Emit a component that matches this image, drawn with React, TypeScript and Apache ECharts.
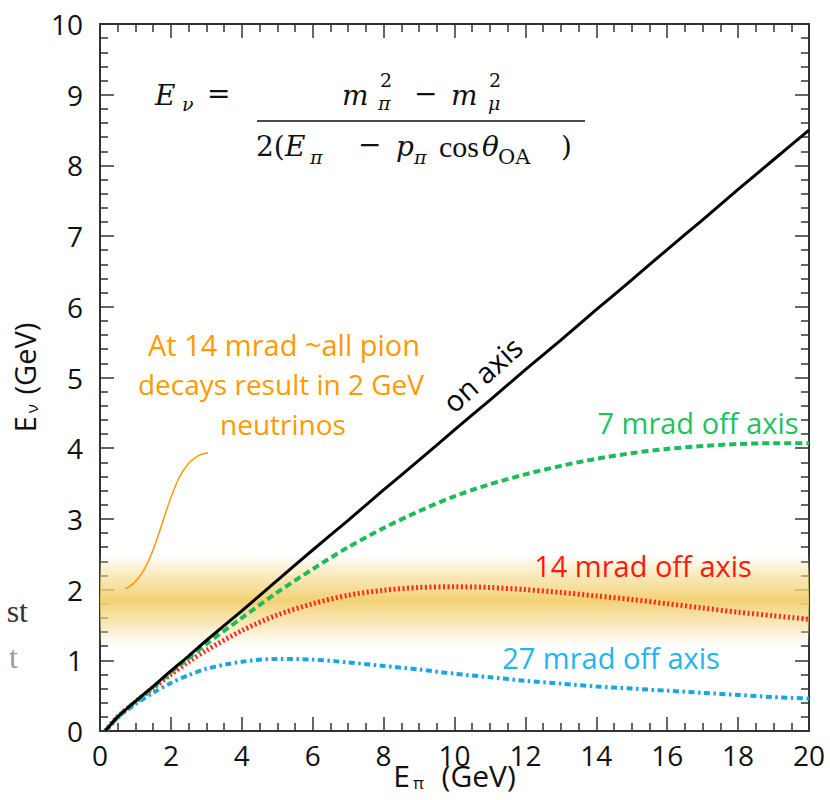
import React, { useEffect, useRef } from 'react';
import * as echarts from 'echarts';

// Pion energy (GeV) sample points
const E_PI = [0.15, 0.5, 1, 1.5, 2, 2.5, 3, 4, 5, 6, 7, 8, 9, 10, 11, 12, 13, 14, 15, 16, 17, 18, 19, 20];
// Neutrino energy (GeV)
const ON_AXIS = [0, 0.2, 0.42, 0.63, 0.85, 1.06, 1.28, 1.7, 2.13, 2.56, 2.98, 3.41, 3.83, 4.26, 4.68, 5.11, 5.53, 5.96, 6.38, 6.81, 7.23, 7.66, 8.08, 8.5];
const OFF_7 = [0, 0.2, 0.42, 0.62, 0.83, 1.03, 1.23, 1.6, 1.96, 2.29, 2.6, 2.87, 3.11, 3.32, 3.49, 3.63, 3.75, 3.85, 3.93, 3.99, 4.03, 4.06, 4.07, 4.07];
const OFF_14 = [0, 0.2, 0.41, 0.61, 0.8, 0.98, 1.14, 1.42, 1.64, 1.8, 1.92, 1.99, 2.03, 2.04, 2.03, 2.0, 1.96, 1.91, 1.86, 1.8, 1.74, 1.68, 1.63, 1.58];
const OFF_27 = [0, 0.19, 0.38, 0.54, 0.68, 0.79, 0.88, 0.98, 1.02, 1.01, 0.97, 0.92, 0.87, 0.81, 0.76, 0.71, 0.67, 0.63, 0.6, 0.57, 0.54, 0.51, 0.48, 0.46];
// Highlighted 2 GeV band (GeV)
const BAND = [1.2, 2.5];
const X_RANGE = [0, 20];
const Y_RANGE = [0, 10];

const SANS = '"Open Sans", "Noto Sans", sans-serif';
const SERIF = '"DejaVu Serif", "Liberation Serif", serif';
const TIMES = '"Liberation Serif", "DejaVu Serif", serif';

const pairs = (ys: number[]) => E_PI.map((x, i) => [x, ys[i]]);

function txt(text: string, x: number, y: number, font: string, fill: string, align = 'left', vAlign = 'middle', extra: any = {}) {
  return {
    type: 'text',
    x,
    y,
    z: 100,
    ...extra,
    style: { text, font, fill, align, verticalAlign: vAlign, textAlign: align, textVerticalAlign: vAlign },
  };
}

export default function App() {
  const ref = useRef<HTMLDivElement>(null);
  useEffect(() => {
    if (!ref.current) return;
    const chart = echarts.init(ref.current, undefined, { renderer: 'svg' });
    const axisCommon = {
      type: 'value',
      axisLine: { show: true, onZero: false, lineStyle: { color: '#333', width: 2 } },
      axisTick: { show: true, inside: true, length: 14, lineStyle: { color: '#333', width: 1.5 } },
      splitLine: { show: false },
    };
    const xBase = { ...axisCommon, min: X_RANGE[0], max: X_RANGE[1], interval: 2, minorTick: { show: true, splitNumber: 4, length: 8, lineStyle: { color: '#333', width: 1.5 } } };
    const yBase = { ...axisCommon, min: Y_RANGE[0], max: Y_RANGE[1], interval: 1, minorTick: { show: true, splitNumber: 5, length: 8, lineStyle: { color: '#333', width: 1.5 } } };
    const main = 'italic 28px ' + SERIF;
    const up = '28px ' + SERIF;
    const sub = 'italic 19px ' + SERIF;
    const subUp = '19px ' + SERIF;
    const orange = '#ff9a00';
    const ink = '#111';
    const option: any = {
      animation: false,
      backgroundColor: '#fff',
      grid: { left: 100, top: 24, right: 21, bottom: 69, containLabel: false, outerBoundsMode: 'none' },
      xAxis: [
        {
          ...xBase,
          position: 'bottom',
          axisLabel: { show: true, fontSize: 28, color: ink, fontFamily: SANS, margin: 10 },
          name: '{e|E}{s|π}{e|  (GeV)}',
          nameLocation: 'middle',
          nameGap: 44,
          nameMoveOverlap: false,
          nameTextStyle: {
            color: ink,
            verticalAlign: 'middle',
            rich: {
              e: { fontSize: 30, fontFamily: SANS, color: ink },
              s: { fontSize: 17, fontFamily: SANS, color: ink, padding: [14, 2, 0, 3] },
            },
          },
        },
        { ...xBase, position: 'top', axisLabel: { show: false } },
      ],
      yAxis: [
        {
          ...yBase,
          position: 'left',
          axisLabel: { show: true, fontSize: 28, color: ink, fontFamily: SANS, margin: 17 },
          name: '{e|E}{s|ν}{e| (GeV)}',
          nameLocation: 'middle',
          nameRotate: 90,
          nameGap: 58,
          nameTextStyle: {
            color: ink,
            rich: {
              e: { fontSize: 29, fontFamily: SANS, color: ink },
              s: { fontSize: 17, fontFamily: SANS, color: ink, padding: [14, 2, 0, 3] },
            },
          },
        },
        { ...yBase, position: 'right', axisLabel: { show: false } },
      ],
      series: [
        {
          type: 'line',
          data: [],
          xAxisIndex: 0,
          yAxisIndex: 0,
          z: 1,
          silent: true,
          markArea: {
            silent: true,
            itemStyle: {
              color: new echarts.graphic.LinearGradient(0, 0, 0, 1, [
                { offset: 0, color: 'rgba(245,218,140,0)' },
                { offset: 0.25, color: 'rgba(245,216,135,0.6)' },
                { offset: 0.5, color: 'rgba(242,206,108,0.95)' },
                { offset: 0.75, color: 'rgba(245,216,135,0.6)' },
                { offset: 1, color: 'rgba(245,218,140,0)' },
              ]),
            },
            data: [[{ yAxis: BAND[0] }, { yAxis: BAND[1] }]],
          },
        },
        {
          type: 'line', name: 'on axis', data: pairs(ON_AXIS), showSymbol: false, smooth: 0.3, z: 5,
          lineStyle: { color: '#000', width: 3 },
        },
        {
          type: 'line', name: '7 mrad off axis', data: pairs(OFF_7), showSymbol: false, smooth: 0.3, z: 4,
          lineStyle: { color: '#1fbb58', width: 4, type: [7, 4] },
        },
        {
          type: 'line', name: '14 mrad off axis', data: pairs(OFF_14), showSymbol: false, smooth: 0.3, z: 3,
          lineStyle: { color: '#ff2a1a', width: 5, type: [2, 2.5] },
        },
        {
          type: 'line', name: '27 mrad off axis', data: pairs(OFF_27), showSymbol: false, smooth: 0.3, z: 3,
          lineStyle: { color: '#1aa6e0', width: 4, type: [6, 3.5, 2.5, 3.5] },
        },
      ],
      graphic: {
        elements: [
          // formula
          txt('E', 155, 95, main, ink),
          txt('ν', 182, 104, sub, ink),
          txt('=', 207, 93, up, ink),
          txt('m', 342, 95, main, ink),
          txt('2', 380, 80, subUp, ink),
          txt('π', 378, 103, sub, ink),
          txt('−', 414, 93, up, ink),
          txt('m', 451, 95, main, ink),
          txt('2', 489, 80, subUp, ink),
          txt('μ', 488, 103, sub, ink),
          { type: 'line', z: 100, shape: { x1: 257, y1: 121, x2: 585, y2: 121 }, style: { stroke: ink, lineWidth: 1.6 } },
          txt('2(', 256, 146, up, ink),
          txt('E', 285, 146, main, ink),
          txt('π', 310, 157, sub, ink),
          txt('−', 358, 144, up, ink),
          txt('p', 396, 146, main, ink),
          txt('π', 414, 157, sub, ink),
          txt('cos', 439, 146, '30px ' + TIMES, ink),
          txt('θ', 482, 146, main, ink),
          txt('OA', 498, 157, '21px ' + SERIF, ink),
          txt(')', 561, 146, up, ink),
          // orange annotation
          txt('At 14 mrad ~all pion', 284, 344, '29px ' + SANS, orange, 'center'),
          txt('decays result in 2 GeV', 281, 384, '28px ' + SANS, orange, 'center'),
          txt('neutrinos', 283, 424, '28px ' + SANS, orange, 'center'),
          {
            type: 'bezierCurve',
            z: 100,
            shape: { x1: 125, y1: 589, cpx1: 165, cpy1: 572, cpx2: 163, cpy2: 456, x2: 208, y2: 453 },
            style: { stroke: orange, lineWidth: 1.5, fill: null },
          },
          // curve labels
          txt('on axis', 482, 374, '29px ' + SANS, '#000', 'center', 'middle', { rotation: (42 * Math.PI) / 180 }),
          txt('7 mrad off axis', 698, 422, '29px ' + SANS, '#22c15e', 'center'),
          txt('14 mrad off axis', 643, 565, '29px ' + SANS, '#ff1a0a', 'center'),
          txt('27 mrad off axis', 611, 657, '29px ' + SANS, '#22b4ee', 'center'),
          // clipped fragments at the left edge
          txt('st', 28, 611, '32px ' + TIMES, '#333', 'right'),
          txt('t', 18, 657, '32px ' + TIMES, '#999', 'right'),
        ],
      },
    };
    chart.setOption(option);
    return () => chart.dispose();
  }, []);
  return <div ref={ref} style={{ position: 'fixed', left: 0, top: 0, width: 830, height: 800, background: '#fff' }} />;
}
